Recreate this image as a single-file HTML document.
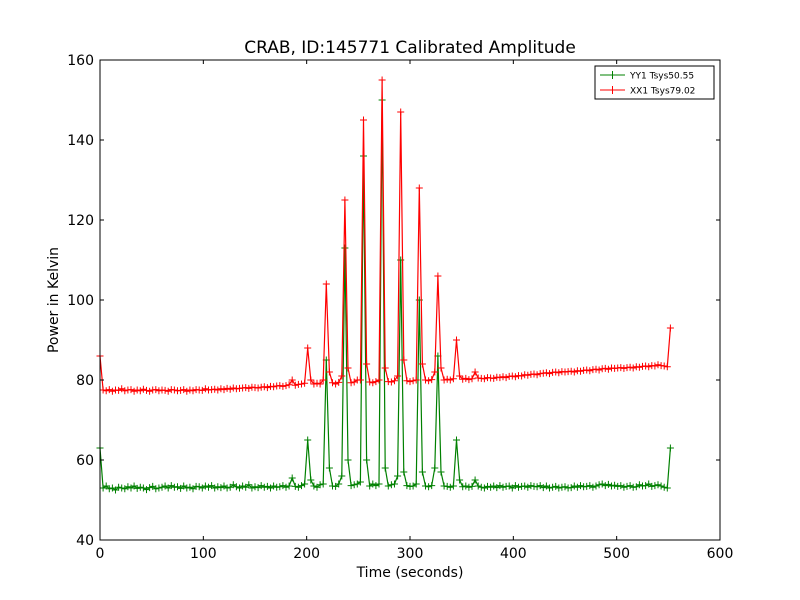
<!DOCTYPE html>
<html><head><meta charset="utf-8"><style>
body{margin:0;background:#fff;}
svg{display:block;font-family:"DejaVu Sans","Liberation Sans",sans-serif;}
</style></head><body>
<svg id="chart" width="800" height="600" viewBox="0 0 800 600">
<rect width="800" height="600" fill="#fff"/>
<text x="410" y="53" font-size="17" text-anchor="middle">CRAB, ID:145771 Calibrated Amplitude</text>
<text x="410" y="577" font-size="14" text-anchor="middle">Time (seconds)</text>
<text x="58" y="300" font-size="14" text-anchor="middle" transform="rotate(-90 58 300)">Power in Kelvin</text>
<g id="series"></g>
<g id="axes"></g>
<g>
<rect x="595" y="66" width="119" height="33" fill="#fff" stroke="#000" stroke-width="1"/>
<g>
<line x1="600" y1="75" x2="625" y2="75" stroke="#008000"/><line x1="612.5" y1="71" x2="612.5" y2="79" stroke="#008000"/>
<text x="630" y="78.5" font-size="9">YY1 Tsys50.55</text></g>
<g>
<line x1="600" y1="90" x2="625" y2="90" stroke="#ff0000"/><line x1="612.5" y1="86" x2="612.5" y2="94" stroke="#ff0000"/>
<text x="630" y="93.5" font-size="9">XX1 Tsys79.02</text></g>
</g>
</svg>
<script>
const xTicks=[0,100,200,300,400,500,600];
const yTicks=[40,60,80,100,120,140,160];
const STEP=3;
const greenVals=[
63,53,53.5,52.8,53,52.5,53.2,53,52.8,53.3,
53,53.5,52.9,53.2,53,52.6,53.1,53.4,52.8,53,
53.2,53.5,53,53.6,53.2,53.3,52.9,53.5,53,53.2,
52.8,53.4,53.3,53,53.5,53.2,53.6,53,53.3,53.1,
53.5,53,53.2,53.8,53.3,53,53.5,53.2,53.8,53,
53.3,53.1,53.6,53.2,53.4,53,53.5,53.2,53.3,53.6,
53.2,53.5,55.5,53.4,53.2,53.6,54,65,55,53.5,
53.2,53.8,54,85,58,53.5,53.4,54,56,113,
60,53.6,53.8,54,54.5,136,60,53.5,54,53.6,
54,150,58,53.5,53.8,54,56,110,57,53.6,
53.4,53.5,54,100,57,53.5,53.3,53.6,58,86,
57,53.5,53.4,53.2,53.5,65,55,53.3,53.5,53.2,
53.4,55,53.5,53.2,53,53.4,53.2,53.5,53.1,53.6,
53.2,53.4,53.5,53,53.6,53.2,53.4,53.5,53.2,53.6,
53.4,53.3,53.6,53.1,53.5,53,53.2,53.4,53,53.2,
53.3,53,53.1,53.5,53.2,53.6,53.3,53.4,53.6,53.2,
53.5,53.8,54,53.6,53.9,53.5,53.7,53.4,53.6,53.2,
53.4,53.6,53.2,53.3,53.8,53.5,53.6,54,53.4,53.6,
53.8,53.5,53.2,53,63];
const redVals=[
86,77.5,77.3,77.6,77.2,77.5,77.4,77.8,77.3,77.5,
77.6,77.2,77.5,77.3,77.7,77.4,77.2,77.5,77.6,77.3,
77.5,77.4,77.2,77.6,77.5,77.3,77.4,77.6,77.2,77.5,
77.3,77.6,77.5,77.4,77.8,77.5,77.6,77.7,77.5,77.8,
77.6,77.9,77.7,78,77.8,77.9,78,78.1,77.9,78.2,
78.1,78,78.2,78.3,78.1,78.4,78.3,78.5,78.6,78.4,
78.6,78.8,80,78.7,78.9,79,79.2,88,80,79,
79.2,79,80,104,82,79.3,79,79.4,81,125,
83,79.3,79.5,80,80,145,84,79.5,79.3,79.6,
80,155,83,79.6,79.5,79.8,81,147,85,79.8,
79.6,79.8,80,128,84,80,79.8,80.1,82,106,
83,80,80.2,80,80.3,90,81,80.2,80.4,80.1,
80.3,82,80.5,80.4,80.3,80.6,80.5,80.4,80.7,80.6,
80.8,80.6,80.9,81,80.8,81.1,81,81.3,81.2,81.4,
81.5,81.3,81.6,81.7,81.8,81.6,81.9,82,81.8,82.1,
82,82.1,82.2,82,82.3,82.2,82.4,82.5,82.3,82.6,
82.7,82.5,82.8,82.9,82.7,83,82.9,83,83.1,82.9,
83.1,83.2,83,83.3,83.2,83.4,83.5,83.3,83.6,83.5,
83.8,83.6,83.5,83.3,93];
const NS='http://www.w3.org/2000/svg';
const X0=100,X1=720,Y0=540,Y1=60;
function xs(v){return X0+(v-0)/(600-0)*(X1-X0);}
function ys(v){return Y0-(v-40)/(160-40)*(Y0-Y1);}
function mk(tag,attrs,parent){const e=document.createElementNS(NS,tag);for(const k in attrs)e.setAttribute(k,attrs[k]);parent.appendChild(e);return e;}
const sg=document.getElementById('series');
function drawSeries(vals,color,name){
  const g=mk('g',{},sg);
  
  
  const pts=vals.map((v,i)=>xs(i*STEP).toFixed(2)+','+ys(v).toFixed(2)).join(' ');
  const pl=mk('polyline',{points:pts,fill:'none',stroke:color,'stroke-width':1.2},g);
  
  
  let d='';
  vals.forEach((v,i)=>{const x=xs(i*STEP),y=ys(v);d+='M'+(x-3.5)+' '+y+'H'+(x+3.5)+'M'+x+' '+(y-3.5)+'V'+(y+3.5);});
  const m=mk('path',{d:d,stroke:color,'stroke-width':1,fill:'none'},g);
  
  
}
drawSeries(greenVals,'#008000','series-yy1');
drawSeries(redVals,'#ff0000','series-xx1');
const ax=document.getElementById('axes');
const frame=mk('rect',{x:X0,y:Y1,width:X1-X0,height:Y0-Y1,fill:'none',stroke:'#000','stroke-width':1},ax);


xTicks.forEach(t=>{
  const x=xs(t);
  mk('line',{x1:x,y1:Y0,x2:x,y2:Y0-4,stroke:'#000'},ax);
  mk('line',{x1:x,y1:Y1,x2:x,y2:Y1+4,stroke:'#000'},ax);
  const tx=mk('text',{x:x,y:Y0+18,'font-size':14,'text-anchor':'middle'},ax);
  tx.textContent=t;
  
  
});
yTicks.forEach(t=>{
  const y=ys(t);
  mk('line',{x1:X0,y1:y,x2:X0+4,y2:y,stroke:'#000'},ax);
  mk('line',{x1:X1,y1:y,x2:X1-4,y2:y,stroke:'#000'},ax);
  const tx=mk('text',{x:X0-6,y:y+5,'font-size':14,'text-anchor':'end'},ax);
  tx.textContent=t;
  
  
});
</script>
</body></html>
